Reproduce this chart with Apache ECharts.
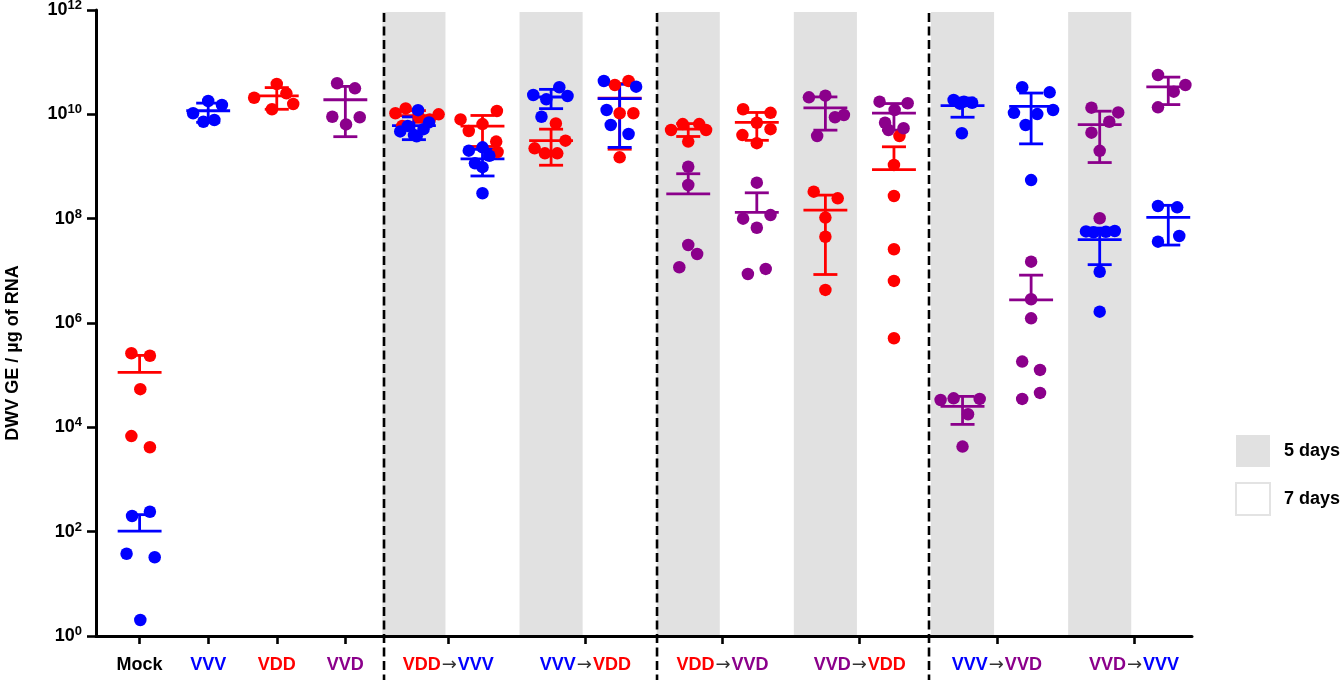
<!DOCTYPE html>
<html>
<head>
<meta charset="utf-8">
<script src="https://cdn.jsdelivr.net/npm/echarts@6/dist/echarts.min.js"></script>
<style>
  html, body { margin: 0; padding: 0; background: #fff; }
  #chart { width: 1342px; height: 680px; }
</style>
</head>
<body>
<div id="chart"></div>
<script>
// ---- DWV genome equivalents per µg of RNA, one array per column and virus ----
// Mock
const mock_VDD = [2.63e5, 2.36e5, 5.4e4, 6.8e3, 4.15e3];
const mock_VVV = [200, 241, 37.8, 32.3, 2.03];
// single inoculations
const vvv_VVV = [1.05e10, 1.8e10, 1.51e10, 7.2e9, 7.8e9];
const vdd_VDD = [2.08e10, 3.82e10, 2.53e10, 1.25e10, 1.58e10];
const vvd_VVD = [3.94e10, 3.15e10, 9.0e9, 8.8e9, 6.4e9];
// VDD→VVV (5 days / 7 days)
const vddVvv5_VDD = [1.05e10, 1.3e10, 1.0e10, 8.0e9, 6.0e9, 9.0e9];
const vddVvv5_VVV = [1.2e10, 4.7e9, 4.0e9, 5.2e9, 6.0e9, 7.0e9, 3.8e9];
const vddVvv7_VDD = [8.0e9, 4.8e9, 1.16e10, 3.0e9, 1.9e9, 6.5e9];
const vddVvv7_VVV = [2.01e9, 2.33e9, 1.61e9, 1.15e9, 9.7e8, 3.07e8];
// VVV→VDD
const vvvVdd5_VVV = [2.35e10, 1.94e10, 3.3e10, 2.25e10, 9.0e9];
const vvvVdd5_VDD = [6.7e9, 2.23e9, 1.79e9, 1.79e9, 3.13e9];
const vvvVdd7_VVV = [4.36e10, 3.39e10, 1.21e10, 6.25e9, 4.2e9];
const vvvVdd7_VDD = [3.65e10, 4.36e10, 1.05e10, 1.05e10, 1.5e9];
// VDD→VVD
const vddVvd5_VDD = [5.0e9, 6.5e9, 6.5e9, 5.0e9, 3.0e9];
const vddVvd5_VVD = [9.9e8, 4.42e8, 3.13e7, 2.1e7, 1.17e7];
const vddVvd7_VDD = [1.25e10, 1.07e10, 6.9e9, 4.0e9, 5.2e9, 2.8e9];
const vddVvd7_VVD = [4.9e8, 1.0e8, 1.17e8, 6.7e7, 8.7e6, 1.09e7];
// VVD→VDD
const vvdVdd5_VVD = [2.12e10, 2.28e10, 8.8e9, 9.7e9, 3.85e9];
const vvdVdd5_VDD = [3.29e8, 2.45e8, 1.05e8, 4.5e7, 4.3e6];
const vvdVdd7_VVD = [1.75e10, 1.63e10, 1.21e10, 6.9e9, 5.4e9, 5.0e9];
const vvdVdd7_VDD = [3.85e9, 1.07e9, 2.72e8, 2.59e7, 6.4e6, 5.1e5];
// VVV→VVD
const vvvVvd5_VVV = [1.88e10, 1.75e10, 1.67e10, 1.6e10, 4.34e9];
const vvvVvd5_VVD = [3.34e4, 3.6e4, 3.5e4, 1.78e4, 4.27e3];
const vvvVvd7_VVV = [3.3e10, 2.64e10, 1.07e10, 1.01e10, 1.21e10, 6.25e9, 5.5e8];
const vvvVvd7_VVD = [1.5e7, 2.85e6, 1.23e6, 1.82e5, 1.26e5, 3.5e4, 4.57e4];
// VVD→VVV
const vvdVvv5_VVD = [1.34e10, 1.09e10, 7.2e9, 4.45e9, 2.0e9, 1.02e8];
const vvdVvv5_VVV = [5.7e7, 5.5e7, 5.6e7, 5.8e7, 9.6e6, 1.65e6];
const vvdVvv7_VVV = [1.75e8, 1.65e8, 3.62e7, 4.66e7];
const vvdVvv7_VVD = [5.68e10, 3.65e10, 2.72e10, 1.36e10];

// x-axis tick labels
const groupLabels = ['Mock', 'VVV', 'VDD', 'VVD', 'VDD→VVV', 'VVV→VDD',
                     'VDD→VVD', 'VVD→VDD', 'VVV→VVD', 'VVD→VVV'];
const legendLabels = ['5 days', '7 days'];
const yAxisTitle = 'DWV GE / µg of RNA';

// ---- layout: columns sit at integer slots on a value x axis ----
const X_MIN = -0.636, X_MAX = 15.346;
const TICK_POS = [0, 1, 2, 3, 4.5, 6.5, 8.5, 10.5, 12.5, 14.5];
const SEPARATORS = [3.564, 7.545, 11.511];
const FIVE_DAY_SLOTS = [4, 6, 8, 10, 12, 14];
const BAND_HALF = 0.46, MEAN_HALF = 0.32, CAP_HALF = 0.175;

// slot, virus, values, horizontal jitter of each dot (slot widths)
const columns = [
  [0, 'VDD', mock_VDD, [-0.12, 0.15, 0.01, -0.12, 0.15]],
  [0, 'VVV', mock_VVV, [-0.11, 0.15, -0.19, 0.22, 0.01]],
  [1, 'VVV', vvv_VVV, [-0.22, 0, 0.2, -0.07, 0.09]],
  [2, 'VDD', vdd_VDD, [-0.33, 0, 0.14, -0.07, 0.24]],
  [3, 'VVD', vvd_VVD, [-0.12, 0.14, -0.19, 0.21, 0.01]],
  [4, 'VDD', vddVvv5_VDD, [-0.27, -0.12, 0.36, 0.23, -0.17, 0.07]],
  [4, 'VVV', vddVvv5_VVV, [0.06, -0.2, 0, 0.14, -0.09, 0.22, 0.04]],
  [5, 'VDD', vddVvv7_VDD, [-0.32, -0.2, 0.21, 0.2, 0.22, 0]],
  [5, 'VVV', vddVvv7_VVV, [-0.2, 0, 0.1, -0.11, 0, 0]],
  [6, 'VVV', vvvVdd5_VVV, [-0.26, -0.07, 0.12, 0.24, -0.14]],
  [6, 'VDD', vvvVdd5_VDD, [0.07, -0.24, -0.09, 0.09, 0.21]],
  [7, 'VVV', vvvVdd7_VVV, [-0.23, 0.24, -0.19, -0.13, 0.13]],
  [7, 'VDD', vvvVdd7_VDD, [-0.07, 0.13, 0, 0.2, 0]],
  [8, 'VDD', vddVvd5_VDD, [-0.25, -0.08, 0.16, 0.26, 0]],
  [8, 'VVD', vddVvd5_VVD, [0, 0, 0, 0.13, -0.13]],
  [9, 'VDD', vddVvd7_VDD, [-0.2, 0.2, 0, -0.21, 0.2, 0]],
  [9, 'VVD', vddVvd7_VVD, [0, -0.2, 0.2, 0, -0.13, 0.13]],
  [10, 'VVD', vvdVdd5_VVD, [-0.24, 0, 0.14, 0.27, -0.12]],
  [10, 'VDD', vvdVdd5_VDD, [-0.17, 0.18, 0, 0, 0]],
  [11, 'VVD', vvdVdd7_VVD, [-0.21, 0.2, 0.01, -0.13, 0.14, -0.08]],
  [11, 'VDD', vvdVdd7_VDD, [0.08, 0, 0, 0, 0, 0]],
  [12, 'VVV', vvvVvd5_VVV, [-0.13, 0.02, 0.14, -0.04, -0.01]],
  [12, 'VVD', vvvVvd5_VVD, [-0.32, -0.13, 0.25, 0.08, 0]],
  [13, 'VVV', vvvVvd7_VVV, [-0.13, 0.27, -0.25, 0.09, 0.32, -0.08, 0]],
  [13, 'VVD', vvvVvd7_VVD, [0, 0, 0, -0.13, 0.13, -0.13, 0.13]],
  [14, 'VVD', vvdVvv5_VVD, [-0.12, 0.27, 0.14, -0.12, 0, 0]],
  [14, 'VVV', vvdVvv5_VVV, [-0.2, -0.09, 0.09, 0.22, 0, 0]],
  [15, 'VVV', vvdVvv7_VVV, [-0.15, 0.13, -0.15, 0.16]],
  [15, 'VVD', vvdVvv7_VVD, [-0.15, 0.25, 0.08, -0.15]]
];

const VIRUS_COLORS = { VVV: '#0000ff', VDD: '#ff0000', VVD: '#8b008b' };
const DRAW_ORDER = ['VDD', 'VVD', 'VVV'];
const FONT = '"Liberation Sans", Arial, Helvetica, sans-serif';
const BAND_COLOR = '#e1e1e1';

function meanOf(a) { return a.reduce((s, v) => s + v, 0) / a.length; }
function sdOf(a) {
  const m = meanOf(a);
  return Math.sqrt(a.reduce((s, v) => s + (v - m) * (v - m), 0) / (a.length - 1));
}

// mean line with ±SD whiskers; the lower whisker is left out when mean − SD ≤ 0
function renderErrorBar(params, api) {
  const slot = api.value(0), mean = api.value(1), sd = api.value(2);
  const color = api.visual('color');
  const style = { stroke: color, lineWidth: 2.8, fill: null };
  const pm = api.coord([slot, mean]);
  const ph = api.coord([slot, mean + sd]);
  const hasLow = mean - sd > 1;
  const pl = hasLow ? api.coord([slot, mean - sd]) : pm;
  const xm0 = api.coord([slot - MEAN_HALF, mean])[0], xm1 = api.coord([slot + MEAN_HALF, mean])[0];
  const xc0 = api.coord([slot - CAP_HALF, mean])[0], xc1 = api.coord([slot + CAP_HALF, mean])[0];
  const children = [
    { type: 'line', shape: { x1: pm[0], y1: ph[1], x2: pm[0], y2: pl[1] }, style },
    { type: 'line', shape: { x1: xm0, y1: pm[1], x2: xm1, y2: pm[1] }, style },
    { type: 'line', shape: { x1: xc0, y1: ph[1], x2: xc1, y2: ph[1] }, style }
  ];
  if (hasLow) {
    children.push({ type: 'line', shape: { x1: xc0, y1: pl[1], x2: xc1, y2: pl[1] }, style });
  }
  return { type: 'group', children };
}

const series = [];

// 5-day background bands
series.push({
  name: legendLabels[0],
  type: 'custom',
  coordinateSystem: 'cartesian2d',
  z: 0, silent: true, clip: false,
  itemStyle: { color: BAND_COLOR },
  data: FIVE_DAY_SLOTS.map(s => [s, 1e6]),
  renderItem: function (params, api) {
    const s = api.value(0);
    const x0 = api.coord([s - BAND_HALF, 1e12])[0];
    const x1 = api.coord([s + BAND_HALF, 1e12])[0];
    const yTop = api.coord([s, 1e12])[1] + 2;
    const yBot = api.coord([s, 1])[1];
    return { type: 'rect', shape: { x: x0, y: yTop, width: x1 - x0, height: yBot - yTop },
             style: { fill: BAND_COLOR } };
  }
});
// 7-day columns keep the plain background; entry only for the legend
series.push({
  name: legendLabels[1],
  type: 'custom',
  coordinateSystem: 'cartesian2d',
  silent: true,
  itemStyle: { color: '#ffffff' },
  data: [],
  renderItem: function () { return null; }
});
// dashed separators between inoculation sets
series.push({
  type: 'custom',
  coordinateSystem: 'cartesian2d',
  z: 1, silent: true, clip: false,
  data: SEPARATORS.map(s => [s, 1e6]),
  renderItem: function (params, api) {
    const s = api.value(0);
    const p = api.coord([s, 1e12]);
    return { type: 'line', shape: { x1: p[0], y1: p[1] + 3, x2: p[0], y2: api.getHeight() },
             style: { stroke: '#000', lineWidth: 2.6, lineDash: [9, 4.5] } };
  }
});

DRAW_ORDER.forEach(virus => {
  const cols = columns.filter(c => c[1] === virus);
  const color = VIRUS_COLORS[virus];
  series.push({
    type: 'scatter',
    name: virus,
    symbol: 'circle',
    symbolSize: 12.5,
    itemStyle: { color: color, opacity: 1 },
    z: 3,
    silent: true,
    data: cols.flatMap(c => c[2].map((v, i) => [c[0] + c[3][i], v]))
  });
  series.push({
    type: 'custom',
    name: virus + ' mean ± SD',
    coordinateSystem: 'cartesian2d',
    z: 3, silent: true, clip: false,
    itemStyle: { color: color },
    data: cols.map(c => [c[0], meanOf(c[2]), sdOf(c[2])]),
    renderItem: renderErrorBar
  });
});

const RICH_KEY = { Mock: 'm', VVV: 'v', VDD: 'd', VVD: 'p' };
function groupLabel(v) {
  const i = TICK_POS.findIndex(t => Math.abs(t - v) < 1e-6);
  if (i < 0) return '';
  return groupLabels[i].split('→')
    .map(part => '{' + RICH_KEY[part] + '|' + part + '}')
    .join('{a|→}');
}
const labelBase = { fontFamily: FONT, fontSize: 18, fontWeight: 'bold' };

const option = {
  animation: false,
  backgroundColor: '#ffffff',
  grid: { left: 96, right: 150, top: 10, bottom: 44, containLabel: false, outerBoundsMode: 'none' },
  legend: {
    orient: 'vertical',
    left: 1235, top: 435,
    padding: 0,
    itemWidth: 34, itemHeight: 32, itemGap: 15,
    selectedMode: false,
    data: [
      { name: legendLabels[0], icon: 'rect', itemStyle: { color: BAND_COLOR, borderWidth: 0 } },
      { name: legendLabels[1], icon: 'rect', itemStyle: { color: '#ffffff', borderColor: '#e3e3e3', borderWidth: 2 } }
    ],
    textStyle: { fontFamily: FONT, fontSize: 18, fontWeight: 'bold', color: '#000', padding: [0, 0, 0, 9] }
  },
  xAxis: {
    type: 'value',
    min: X_MIN, max: X_MAX,
    z: 10,
    splitLine: { show: false },
    axisLine: { show: true, onZero: false, lineStyle: { color: '#000', width: 3 } },
    axisTick: { show: true, customValues: TICK_POS, length: 8, lineStyle: { color: '#000', width: 2.6 } },
    axisLabel: {
      customValues: TICK_POS,
      margin: 20,
      formatter: groupLabel,
      rich: {
        m: Object.assign({ color: '#000' }, labelBase),
        v: Object.assign({ color: VIRUS_COLORS.VVV }, labelBase),
        d: Object.assign({ color: VIRUS_COLORS.VDD }, labelBase),
        p: Object.assign({ color: VIRUS_COLORS.VVD }, labelBase),
        a: { color: '#333', fontFamily: '"DejaVu Sans", sans-serif', fontSize: 18, fontWeight: 'normal', padding: [0, 1, 0, 1] }
      }
    }
  },
  yAxis: {
    type: 'log',
    logBase: 10,
    min: 1, max: 1e12,
    interval: 2,
    z: 10,
    splitLine: { show: false },
    axisLine: { show: true, onZero: false, lineStyle: { color: '#000', width: 3 } },
    axisTick: { show: true, inside: false, length: 9, lineStyle: { color: '#000', width: 2.6 } },
    axisLabel: {
      margin: 14,
      formatter: v => '{b|10}{e|' + Math.round(Math.log10(v)) + '}',
      rich: {
        b: { fontFamily: FONT, fontSize: 18, fontWeight: 'bold', color: '#000', lineHeight: 22 },
        e: { fontFamily: FONT, fontSize: 13, fontWeight: 'bold', color: '#000', lineHeight: 13, verticalAlign: 'top' }
      }
    },
    name: yAxisTitle,
    nameLocation: 'middle',
    nameGap: 74,
    nameTextStyle: { fontFamily: FONT, fontSize: 18, fontWeight: 'bold', color: '#000', padding: [0, 60, 0, 0] }
  },
  series: series
};

const chart = echarts.init(document.getElementById('chart'), null, { renderer: 'canvas' });
chart.setOption(option);
</script>
</body>
</html>
